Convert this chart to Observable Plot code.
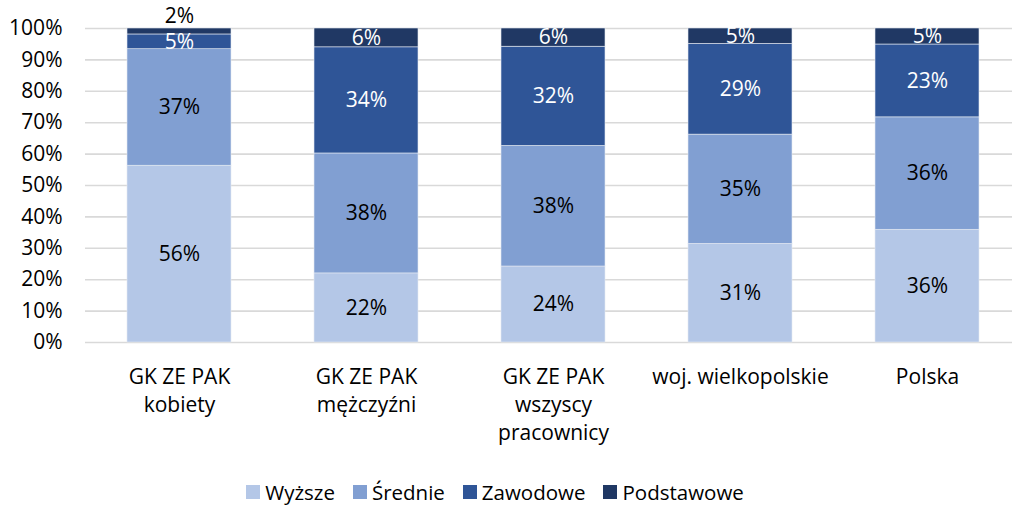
<!DOCTYPE html>
<html>
<head>
<meta charset="utf-8">
<script src="https://cdn.jsdelivr.net/npm/d3@7"></script>
<script src="https://cdn.jsdelivr.net/npm/@observablehq/plot@0.6"></script>
<style>
  html, body { margin: 0; padding: 0; background: #fff; }
  body { width: 1012px; font-family: "Open Sans", sans-serif; }
  #legend { display: flex; justify-content: center; align-items: center; height: 26px; line-height: 26px; padding-top: 5px; font-size: 20.5px; color: #000; margin-left: -22px; }
  .item { display: flex; align-items: center; margin: 0 9px; }
  .sw { width: 14px; height: 14px; margin-right: 5px; }
</style>
</head>
<body>
<div id="chart"></div>
<div id="legend"></div>
<script>
const categories = ["GK ZE PAK\nkobiety", "GK ZE PAK\nmężczyźni", "GK ZE PAK\nwszyscy\npracownicy", "woj. wielkopolskie", "Polska"];
const seriesNames = ["Wyższe", "Średnie", "Zawodowe", "Podstawowe"];
const wyzsze     = [56.3, 22.0, 24.2, 31.4, 35.9];
const srednie    = [37.1, 38.2, 38.4, 34.8, 35.8];
const zawodowe   = [4.7, 33.8, 31.6, 28.9, 23.2];
const podstawowe = [1.9, 6.0, 5.8, 4.9, 5.1];
const colors = ["#b4c7e7", "#819fd2", "#2f5597", "#203864"];
const labelColors = ["#000", "#000", "#fff", "#fff"];
const yTicks = [0, 10, 20, 30, 40, 50, 60, 70, 80, 90, 100];

const seriesValues = [wyzsze, srednie, zawodowe, podstawowe];
const rows = [];
categories.forEach((c, i) => {
  let lo = 0;
  seriesValues.forEach((vals, s) => {
    const v = vals[i];
    rows.push({cat: c, series: seriesNames[s], value: v, lo, hi: lo + v, mid: lo + v / 2, s});
    lo += v;
  });
});
const smallRows = rows.filter(d => d.value < 3);
const normalRows = rows.filter(d => d.value >= 3);

const chart = Plot.plot({
  width: 1012,
  height: 474,
  marginTop: 28,
  marginBottom: 132,
  marginLeft: 85,
  marginRight: 0,
  style: {fontFamily: "Open Sans", fontSize: "21px", color: "#000", background: "#fff"},
  x: {domain: categories, range: [85.5, 1020.5], paddingInner: 0.444, paddingOuter: 0.222, label: null},
  y: {domain: [0, 100], label: null},
  color: {domain: seriesNames, range: colors},
  marks: [
    Plot.ruleY(yTicks, {stroke: "#d9d9d9", strokeWidth: 1.6, strokeOpacity: 1}),
    Plot.rectY(rows, {x: "cat", y1: "lo", y2: "hi", fill: "series", stroke: "#e4e9f2", strokeWidth: 0.6}),
    Plot.text(normalRows, {x: "cat", y: "mid", text: d => Math.round(d.value) + "%", fill: d => labelColors[d.s], fontSize: 21}),
    Plot.text(smallRows, {x: "cat", y: "hi", text: d => Math.round(d.value) + "%", fill: "#000", fontSize: 21, dy: -12}),
    Plot.axisY({ticks: yTicks, tickFormat: d => d + "%", tickSize: 0, tickPadding: 23, fontSize: 21, fill: "#000"}),
    Plot.axisX({tickSize: 0, tickPadding: 21, fontSize: 21, lineHeight: 1.35, fill: "#000"})
  ]
});
document.getElementById("chart").appendChild(chart);

const legend = document.getElementById("legend");
seriesNames.forEach((n, i) => {
  const it = document.createElement("div");
  it.className = "item";
  const sw = document.createElement("div");
  sw.className = "sw";
  sw.style.background = colors[i];
  const t = document.createElement("span");
  t.textContent = n;
  it.appendChild(sw);
  it.appendChild(t);
  legend.appendChild(it);
});
</script>
</body>
</html>
